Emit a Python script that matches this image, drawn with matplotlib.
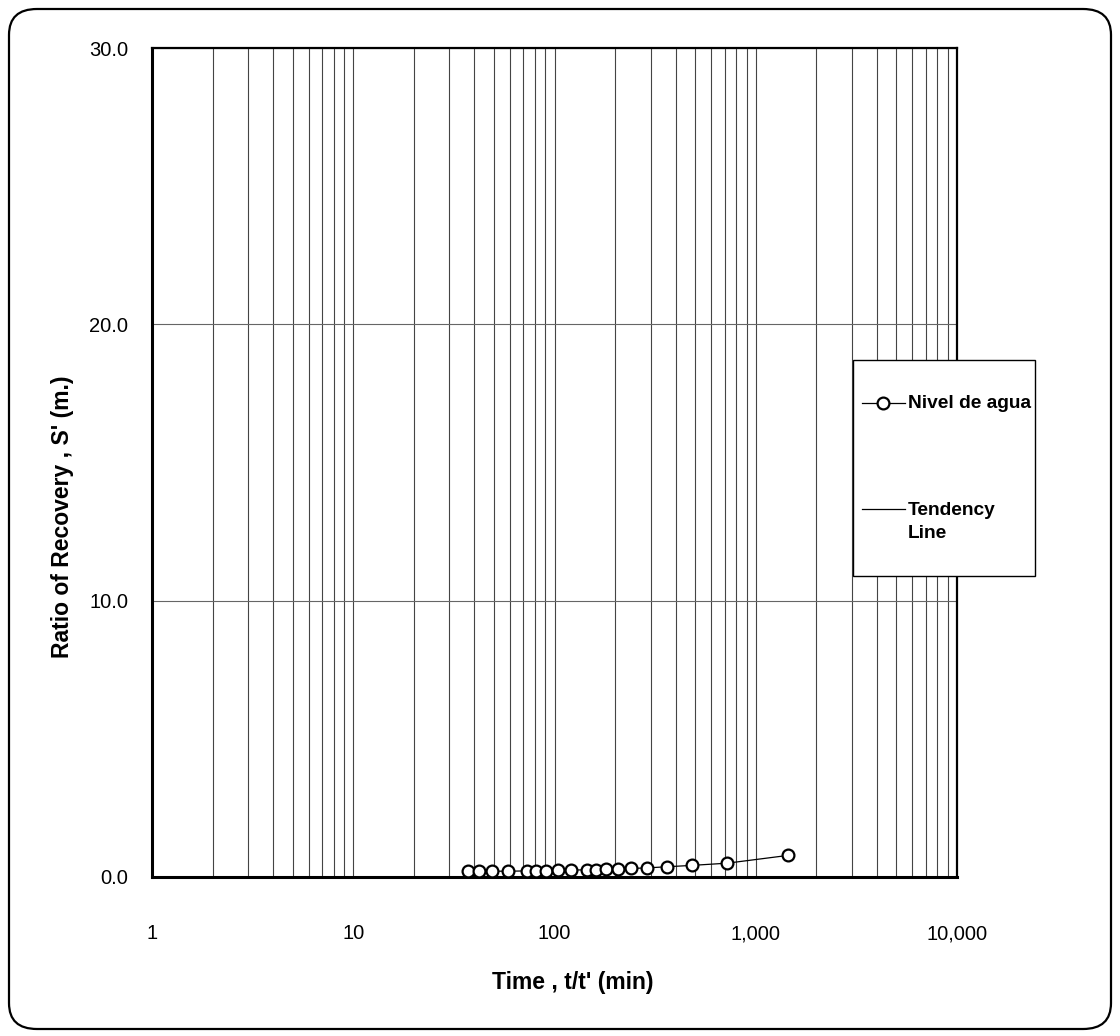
import numpy as np
import matplotlib
matplotlib.use("Agg")
import matplotlib.pyplot as plt
from matplotlib.patches import FancyBboxPatch, Rectangle
from matplotlib.lines import Line2D
from matplotlib.ticker import FixedLocator, NullFormatter

plt.rcParams["font.family"] = ["Liberation Sans", "DejaVu Sans"]

# recovery test data: t/t' (min) and residual drawdown S' (m)
t_ratio = [37.0, 42.1, 49.0, 58.6, 73.0, 81.0, 91.0, 103.9, 121.0, 145.0,
           161.0, 181.0, 206.7, 241.0, 289.0, 361.0, 481.0, 721.0, 1441.0]
s_resid = [0.20, 0.20, 0.21, 0.21, 0.22, 0.22, 0.23, 0.24, 0.25, 0.26,
           0.27, 0.28, 0.29, 0.31, 0.33, 0.37, 0.42, 0.50, 0.78]

x_ticks = [1, 10, 100, 1000, 10000]
x_tick_labels = ["1", "10", "100", "1,000", "10,000"]
y_ticks = [0, 10, 20, 30]
y_tick_labels = ["0.0", "10.0", "20.0", "30.0"]
series_label = "Nivel de agua"
trend_label = "Tendency\nLine"

W, H = 1120, 1036
fig = plt.figure(figsize=(W / 100, H / 100), dpi=100)
fig.patch.set_facecolor("white")

def fx(px): return px / W
def fy(py): return 1 - py / H

# rounded outer frame
fig.patches.append(FancyBboxPatch((fx(9), fy(1029)), fx(1102), (1020) / H,
                                  boxstyle="round,pad=0,rounding_size=0.025",
                                  transform=fig.transFigure, fill=False,
                                  edgecolor="black", linewidth=1.6))

ax = fig.add_axes([fx(152), fy(877), fx(957) - fx(152), (877 - 48) / H])
ax.set_xscale("log")
ax.set_xlim(1, 10000)
ax.set_ylim(0, 30)

# grid: every 1..9 per decade vertically, 10 m horizontally
minor = [m * 10 ** d for d in range(4) for m in range(2, 10)]
ax.xaxis.set_minor_locator(FixedLocator(minor))
ax.xaxis.set_minor_formatter(NullFormatter())
ax.set_xticks(x_ticks)
ax.set_xticklabels(x_tick_labels)
ax.set_yticks(y_ticks)
ax.set_yticklabels(y_tick_labels)
ax.grid(True, which="both", axis="x", color="#444444", linewidth=0.8)
ax.grid(True, which="major", axis="y", color="#666666", linewidth=0.8)
ax.tick_params(which="both", length=0, labelsize=14.5)
ax.tick_params(axis="x", pad=34)
ax.tick_params(axis="y", pad=17)

for side in ["left", "bottom"]:
    ax.spines[side].set_linewidth(2.2)
for side in ["top", "right"]:
    ax.spines[side].set_linewidth(1.6)

ax.plot(t_ratio, s_resid, color="black", linewidth=0.9, marker="o",
        markersize=8.5, markerfacecolor="white", markeredgecolor="black",
        markeredgewidth=1.6, zorder=5, clip_on=False)

fig.text(fx(63), fy(517), "Ratio of Recovery , S' (m.)", rotation=90,
         ha="center", va="center", fontsize=16.5, fontweight="bold")
fig.text(fx(573), fy(983), "Time , t/t' (min)", ha="center", va="center",
         fontsize=16.5, fontweight="bold")

# legend box, drawn in figure coords
fig.patches.append(Rectangle((fx(853), fy(576)), fx(1035) - fx(853), (576 - 360) / H,
                             transform=fig.transFigure, facecolor="white",
                             edgecolor="black", linewidth=1.0, zorder=10))
fig.lines.append(Line2D([fx(862), fx(905)], [fy(403), fy(403)], transform=fig.transFigure,
                        color="black", linewidth=0.9, zorder=11))
fig.lines.append(Line2D([fx(883)], [fy(403)], transform=fig.transFigure, marker="o",
                        markersize=8.5, markerfacecolor="white", markeredgecolor="black",
                        markeredgewidth=1.6, zorder=12))
fig.text(fx(908), fy(404), series_label, ha="left", va="center", fontsize=13.8,
         fontweight="bold", zorder=12)
fig.lines.append(Line2D([fx(862), fx(905)], [fy(509), fy(509)], transform=fig.transFigure,
                        color="black", linewidth=0.9, zorder=11))
fig.text(fx(908), fy(522), trend_label, ha="left", va="center", fontsize=13.8,
         fontweight="bold", linespacing=1.4, zorder=12)

fig.savefig("out.png", dpi=100)
